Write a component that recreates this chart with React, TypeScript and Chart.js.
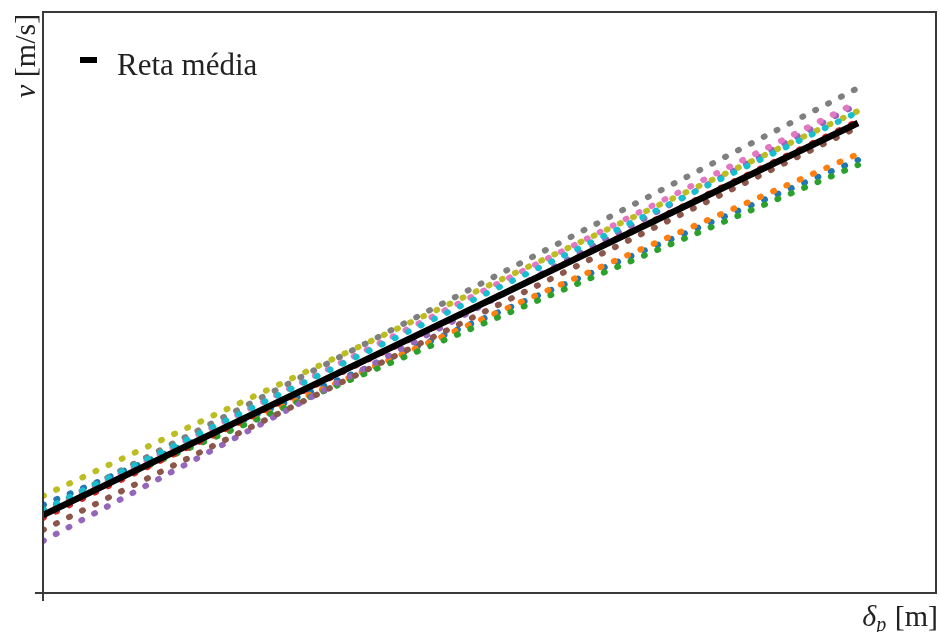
import React, { useEffect, useRef } from "react";
import { Chart, registerables } from "chart.js";

Chart.register(...registerables);

// x positions (normalised penetration) where each straight line is sampled
const xs = [0, 1];

// speed values at the start / end of each dotted series (arbitrary units)
const serieBlue = [0.88, 4.33];
const serieOrange = [0.81, 4.39];
const serieGreen = [0.83, 4.28];
const serieRed = [0.75, 4.72];
const seriePurple = [0.52, 4.89];
const serieBrown = [0.63, 4.66];
const seriePink = [0.8, 4.91];
const serieGray = [0.82, 5.05];
const serieOlive = [0.97, 4.82];
const serieCyan = [0.83, 4.81];
const retaMedia = [0.78, 4.7];

const seriesList = [
  { name: "s1", values: serieBlue, color: "#1f77b4" },
  { name: "s2", values: serieOrange, color: "#ff7f0e" },
  { name: "s3", values: serieGreen, color: "#2ca02c" },
  { name: "s4", values: serieRed, color: "#d62728" },
  { name: "s5", values: seriePurple, color: "#9467bd" },
  { name: "s6", values: serieBrown, color: "#8c564b" },
  { name: "s7", values: seriePink, color: "#e377c2" },
  { name: "s8", values: serieGray, color: "#7f7f7f" },
  { name: "s9", values: serieOlive, color: "#bcbd22" },
  { name: "s10", values: serieCyan, color: "#17becf" },
];

const legendLabel = "Reta média";
const xMax = 1.0957;
const yMax = 5.81;

const SERIF = '"Liberation Serif", "DejaVu Serif", serif';

const framePlugin = {
  id: "frame",
  afterDraw(chart: any) {
    const { ctx, chartArea } = chart;
    const { left, right, top, bottom } = chartArea;
    const xs0 = chart.scales.x.getPixelForValue(0);
    const ys0 = chart.scales.y.getPixelForValue(0);
    ctx.save();
    // frame
    ctx.strokeStyle = "#3a3a3a";
    ctx.lineWidth = 2;
    ctx.strokeRect(left, top, right - left, bottom - top);
    // ticks at origin
    ctx.lineWidth = 2;
    ctx.beginPath();
    ctx.moveTo(xs0, bottom);
    ctx.lineTo(xs0, bottom + 8);
    ctx.moveTo(left, ys0);
    ctx.lineTo(left - 8, ys0);
    ctx.stroke();

    // legend
    ctx.fillStyle = "#000";
    ctx.fillRect(left + 37, top + 45, 17, 6);
    ctx.font = `31px ${SERIF}`;
    ctx.fillStyle = "#222";
    ctx.textBaseline = "alphabetic";
    ctx.textAlign = "left";
    ctx.fillText(legendLabel, left + 74, top + 63);

    // y axis title (rotated)
    ctx.save();
    ctx.translate(35, 98);
    ctx.rotate(-Math.PI / 2);
    ctx.font = `italic 30px ${SERIF}`;
    ctx.fillText("v", 0, 0);
    const vw = ctx.measureText("v").width;
    ctx.font = `30px ${SERIF}`;
    ctx.fillText(" [m/s]", vw, 0);
    ctx.restore();

    // x axis title
    ctx.font = `30px ${SERIF}`;
    const mText = " [m]";
    const mw = ctx.measureText(mText).width;
    const baseY = 626;
    const endX = 938;
    ctx.fillText(mText, endX - mw, baseY);
    ctx.font = `italic 20px ${SERIF}`;
    const pw = ctx.measureText("p").width;
    ctx.fillText("p", endX - mw - pw - 1, baseY + 5);
    ctx.font = `italic 30px ${SERIF}`;
    const dw = ctx.measureText("δ").width;
    ctx.fillText("δ", endX - mw - pw - dw - 1, baseY);
    ctx.restore();
  },
};

export default function App() {
  const ref = useRef<HTMLCanvasElement | null>(null);

  useEffect(() => {
    if (!ref.current) return;
    const datasets: any[] = [
      {
        label: legendLabel,
        data: xs.map((x, i) => ({ x, y: retaMedia[i] })),
        borderColor: "#000",
        borderWidth: 6.5,
        pointRadius: 0,
        order: 0,
        borderCapStyle: "butt",
      },
      ...seriesList.map((s, idx) => ({
        label: s.name,
        data: xs.map((x, i) => ({ x, y: s.values[i] })),
        borderColor: s.color,
        borderWidth: 6,
        borderDash: [1, 13.5],
        borderCapStyle: "round",
        pointRadius: 0,
        order: seriesList.length - idx,
      })),
    ];
    const chart = new Chart(ref.current, {
      type: "line",
      data: { datasets },
      options: {
        animation: false,
        responsive: false,
        maintainAspectRatio: false,
        layout: { padding: { left: 43, right: 4, top: 12, bottom: 39 } },
        plugins: {
          legend: { display: false },
          tooltip: { enabled: false },
        },
        scales: {
          x: { type: "linear", min: 0, max: xMax, display: false },
          y: { type: "linear", min: 0, max: yMax, display: false },
        },
      },
      plugins: [framePlugin],
    });
    return () => chart.destroy();
  }, []);

  return (
    <div style={{ position: "absolute", left: 0, top: 0, width: 940, height: 632, background: "#fff" }}>
      <canvas ref={ref} width={940} height={632} style={{ width: 940, height: 632, display: "block" }} />
    </div>
  );
}
